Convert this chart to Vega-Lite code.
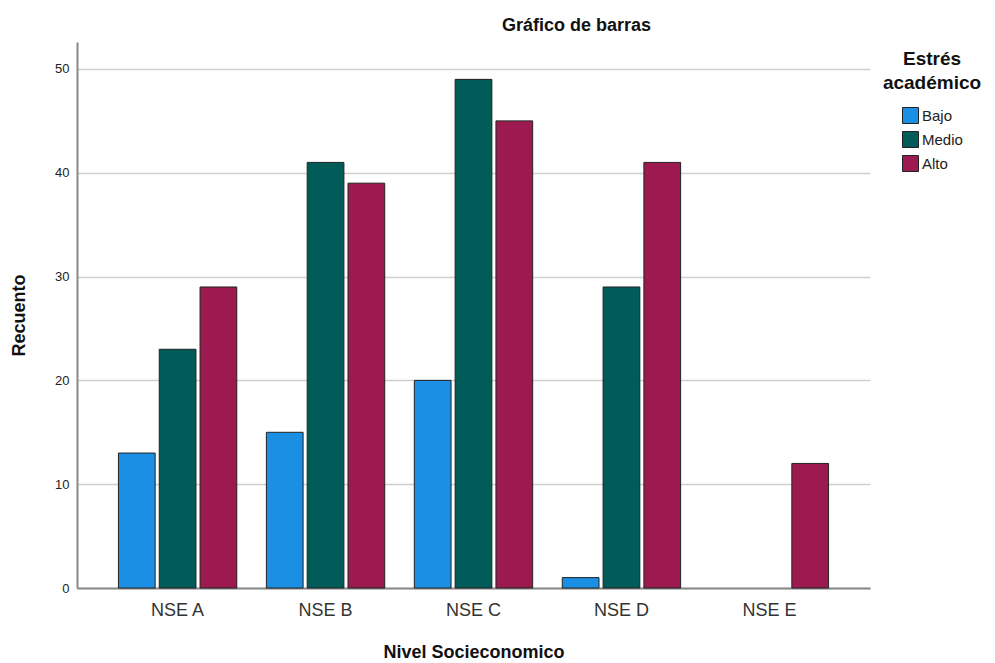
{
  "$schema": "https://vega.github.io/schema/vega-lite/v6.json",
  "autosize": {"type": "none"},
  "padding": {"left": 77, "top": 42, "right": 125, "bottom": 75},
  "width": 793,
  "height": 546,
  "background": "white",
  "config": {
    "font": "Liberation Sans",
    "view": {"stroke": null}
  },
  "title": {
    "text": "Gráfico de barras",
    "anchor": "middle",
    "dx": 103,
    "offset": 7,
    "fontSize": 18,
    "fontWeight": "bold",
    "color": "#111"
  },
  "data": {
    "values": [
      {"nse": "NSE A", "estres": "Bajo", "n": 13},
      {"nse": "NSE A", "estres": "Medio", "n": 23},
      {"nse": "NSE A", "estres": "Alto", "n": 29},
      {"nse": "NSE B", "estres": "Bajo", "n": 15},
      {"nse": "NSE B", "estres": "Medio", "n": 41},
      {"nse": "NSE B", "estres": "Alto", "n": 39},
      {"nse": "NSE C", "estres": "Bajo", "n": 20},
      {"nse": "NSE C", "estres": "Medio", "n": 49},
      {"nse": "NSE C", "estres": "Alto", "n": 45},
      {"nse": "NSE D", "estres": "Bajo", "n": 1},
      {"nse": "NSE D", "estres": "Medio", "n": 29},
      {"nse": "NSE D", "estres": "Alto", "n": 41},
      {"nse": "NSE E", "estres": "Alto", "n": 12}
    ]
  },
  "mark": {"type": "bar", "stroke": "#222", "strokeWidth": 1},
  "encoding": {
    "x": {
      "field": "nse",
      "type": "nominal",
      "sort": ["NSE A", "NSE B", "NSE C", "NSE D", "NSE E"],
      "scale": {"domain": ["NSE A", "NSE B", "NSE C", "NSE D", "NSE E"], "paddingInner": 0.2, "paddingOuter": 0.28},
      "axis": {
        "title": "Nivel Socieconomico",
        "titleFontSize": 18,
        "titleFontWeight": "bold",
        "titleColor": "#111",
        "titlePadding": 24,
        "labelAngle": 0,
        "labelFontSize": 18,
        "labelColor": "#333",
        "labelPadding": 13,
        "ticks": false,
        "domainColor": "#888",
        "domainWidth": 2
      }
    },
    "xOffset": {
      "field": "estres",
      "type": "nominal",
      "scale": {"domain": ["Bajo", "Medio", "Alto"], "paddingInner": 0.1, "paddingOuter": 0}
    },
    "y": {
      "field": "n",
      "type": "quantitative",
      "scale": {"domain": [0, 52.6], "nice": false},
      "axis": {
        "title": "Recuento",
        "titleFontSize": 18,
        "titleFontWeight": "bold",
        "titleColor": "#111",
        "titlePadding": 26,
        "values": [0, 10, 20, 30, 40, 50],
        "labelFontSize": 13,
        "labelColor": "#222",
        "labelPadding": 8,
        "ticks": false,
        "grid": true,
        "gridColor": "#cfcfcf",
        "gridWidth": 1.5,
        "domainColor": "#888",
        "domainWidth": 2
      }
    },
    "color": {
      "field": "estres",
      "type": "nominal",
      "scale": {"domain": ["Bajo", "Medio", "Alto"], "range": ["#1a8fe3", "#005b59", "#9c1a50"]},
      "legend": {
        "title": ["Estrés", "académico"],
        "orient": "none",
        "legendX": 806,
        "legendY": 8,
        "titleFontSize": 19,
        "titleLineHeight": 24,
        "titleFontWeight": "bold",
        "titleColor": "#111",
        "titleAlign": "center",
        "titleAnchor": "middle",
        "titlePadding": 14,
        "labelFontSize": 15,
        "labelColor": "#222",
        "symbolType": "square",
        "symbolSize": 256,
        "symbolStrokeColor": "#222",
        "symbolStrokeWidth": 1,
        "rowPadding": 3,
        "labelOffset": 3
      }
    }
  }
}
